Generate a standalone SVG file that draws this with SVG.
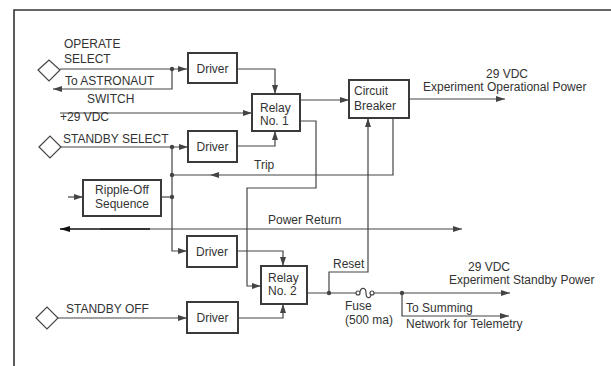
<svg xmlns="http://www.w3.org/2000/svg" width="611" height="366" viewBox="0 0 611 366">
<defs>
<style>
text{font-family:"Liberation Sans",Arial,sans-serif;font-size:12px;fill:#333}
.box{fill:#fff;stroke:#3a3a3a;stroke-width:2}
.ln{fill:none;stroke:#444;stroke-width:1.2}
.dot{fill:#444}
.dia{fill:#fff;stroke:#444;stroke-width:1.2}
</style>
<marker id="arr" markerUnits="userSpaceOnUse" markerWidth="9" markerHeight="6" refX="9" refY="3" orient="auto">
<path d="M0,0 L9,3 L0,6 z" fill="#444"/>
</marker>
<marker id="arrb" markerUnits="userSpaceOnUse" markerWidth="10" markerHeight="6" refX="10" refY="3" orient="auto">
<path d="M0,0 L10,3 L0,6 z" fill="#111"/>
</marker>
</defs>
<rect width="611" height="366" fill="#fff"/>
<path d="M14,366 V10 H611" fill="none" stroke="#333" stroke-width="1.6"/>

<g id="connectors">
<path class="ln" d="M60,69 H187" marker-end="url(#arr)"/>
<path class="ln" d="M172,69 V89 H53" marker-end="url(#arr)"/>
<path class="ln" d="M237,69 H275 V94" marker-end="url(#arr)"/>
<path class="ln" d="M60,113 H252" marker-end="url(#arr)"/>
<path class="ln" d="M61,147 H188" marker-end="url(#arr)"/>
<path class="ln" d="M237,146 H275 V131" marker-end="url(#arr)"/>
<path class="ln" d="M172,147 V251 H187" marker-end="url(#arr)"/>
<path class="ln" d="M68,197 H83" marker-end="url(#arr)"/>
<path class="ln" d="M161,197 H172"/>
<path class="ln" d="M393,118 V175 H210" marker-end="url(#arr)"/>
<path class="ln" d="M210,175 H172"/>
<path class="ln" d="M300,100 H349" marker-end="url(#arr)"/>
<path class="ln" d="M409,99 H505" marker-end="url(#arr)"/>
<path class="ln" d="M300,121 H316 V188 H247 V286 H261" marker-end="url(#arr)"/>
<path class="ln" d="M100,229 H462" marker-end="url(#arr)"/>
<path d="M150,229 H60" fill="none" stroke="#111" stroke-width="1.6" marker-end="url(#arrb)"/>
<path class="ln" d="M237,251 H283 V266" marker-end="url(#arr)"/>
<path class="ln" d="M57,318 H187" marker-end="url(#arr)"/>
<path class="ln" d="M238,318 H283 V304" marker-end="url(#arr)"/>
<path class="ln" d="M307,293 H356"/>
<path class="ln" d="M374,293 H510" marker-end="url(#arr)"/>
<path class="ln" d="M329,293 V272 H368 V118" marker-end="url(#arr)"/>
<path class="ln" d="M402,293 V316 H509" marker-end="url(#arr)"/>
<g id="fuse">
<circle cx="358" cy="293" r="2" fill="#fff" stroke="#444" stroke-width="1.2"/>
<path class="ln" d="M360,292 C361,287 366,287 366,293 C366,299 371,299 371,294"/>
<circle cx="372" cy="293" r="2" fill="#fff" stroke="#444" stroke-width="1.2"/>
</g>
<circle class="dot" cx="172" cy="69" r="2.2"/>
<circle class="dot" cx="172" cy="147" r="2.2"/>
<circle class="dot" cx="172" cy="175" r="2.2"/>
<circle class="dot" cx="172" cy="197" r="2.2"/>
<circle class="dot" cx="329" cy="293" r="2.2"/>
<circle class="dot" cx="402" cy="293" r="2.2"/>
</g>

<g id="operate-select">
<polygon class="dia" points="38,70 49,60 60,70 49,81"/>
<text x="64" y="48">OPERATE</text>
<text x="64" y="63">SELECT</text>
</g>
<g id="astronaut-switch">
<text x="65" y="85">To ASTRONAUT</text>
<text x="87" y="103">SWITCH</text>
</g>
<g id="vdc-in"><text x="60" y="121">+29 VDC</text></g>
<g id="standby-select">
<polygon class="dia" points="39,147 50,136 61,147 50,158"/>
<text x="63" y="143">STANDBY SELECT</text>
</g>
<g id="standby-off">
<polygon class="dia" points="36,318 47,307 58,318 47,329"/>
<text x="66" y="313">STANDBY OFF</text>
</g>

<g id="driver1"><rect class="box" x="188" y="53" width="49" height="30"/><text x="212.5" y="73" text-anchor="middle">Driver</text></g>
<g id="driver2"><rect class="box" x="188" y="131" width="49" height="31"/><text x="212.5" y="151" text-anchor="middle">Driver</text></g>
<g id="driver3"><rect class="box" x="187" y="236" width="50" height="31"/><text x="212" y="256" text-anchor="middle">Driver</text></g>
<g id="driver4"><rect class="box" x="187" y="302" width="51" height="31"/><text x="212.5" y="322" text-anchor="middle">Driver</text></g>
<g id="relay1"><rect class="box" x="252" y="94" width="48" height="37"/><text x="260" y="112">Relay</text><text x="260" y="125">No. 1</text></g>
<g id="relay2"><rect class="box" x="261" y="266" width="46" height="38"/><text x="268" y="282">Relay</text><text x="268" y="295">No. 2</text></g>
<g id="breaker"><rect class="box" x="349" y="80" width="60" height="38"/><text x="354" y="95">Circuit</text><text x="354" y="110">Breaker</text></g>
<g id="ripple-off"><rect class="box" x="83" y="180" width="78" height="36"/><text x="122" y="194" text-anchor="middle">Ripple-Off</text><text x="122" y="208" text-anchor="middle">Sequence</text></g>

<g id="labels">
<text x="254" y="169">Trip</text>
<text x="268" y="224">Power Return</text>
<text x="486" y="78">29 VDC</text>
<text x="423" y="91">Experiment Operational Power</text>
<text x="333" y="268">Reset</text>
<text x="468" y="271">29 VDC</text>
<text x="449" y="284">Experiment Standby Power</text>
<text x="345" y="310">Fuse</text>
<text x="345" y="324">(500 ma)</text>
<text x="406" y="312">To Summing</text>
<text x="406" y="328">Network for Telemetry</text>
</g>
</svg>
